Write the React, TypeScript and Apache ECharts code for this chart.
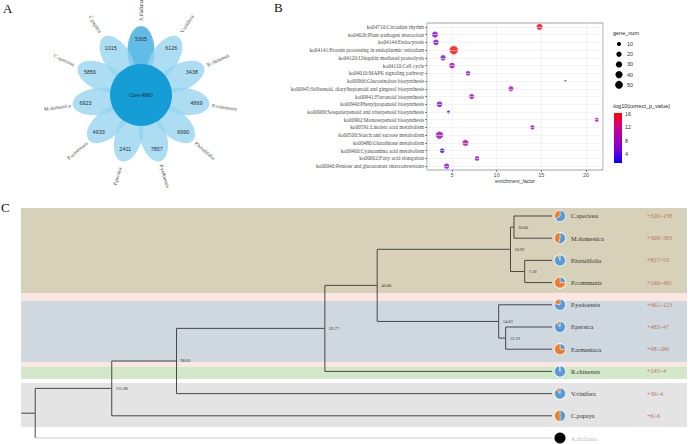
import React, { useEffect, useRef } from "react";
import * as echarts from "echarts";

// ---------- Panel A: flower (Venn) ----------
const flowerSpecies = [
  "A.thaliana", "V.vinifera", "R.chinensis", "P.communis", "P.betulifolia", "P.yedoensis",
  "P.persica", "P.armeniaca", "M.domestica", "C.speciosa", "C.papaya",
];
const flowerCounts = [5305, 6126, 3438, 4869, 6990, 7857, 2411, 4933, 6923, 5856, 1015];
const coreCount = 4960;

// ---------- Panel B: KEGG enrichment ----------
const pathways = [
  "ko04710:Circadian rhythm",
  "ko04626:Plant-pathogen interaction",
  "ko04144:Endocytosis",
  "ko04141:Protein processing in endoplasmic reticulum",
  "ko04120:Ubiquitin mediated proteolysis",
  "ko04110:Cell cycle",
  "ko04010:MAPK signaling pathway",
  "ko00966:Glucosinolate biosynthesis",
  "ko00945:Stilbenoid, diarylheptanoid and gingerol biosynthesis",
  "ko00941:Flavonoid biosynthesis",
  "ko00940:Phenylpropanoid biosynthesis",
  "ko00909:Sesquiterpenoid and triterpenoid biosynthesis",
  "ko00902:Monoterpenoid biosynthesis",
  "ko00591:Linoleic acid metabolism",
  "ko00500:Starch and sucrose metabolism",
  "ko00480:Glutathione metabolism",
  "ko00460:Cyanoamino acid metabolism",
  "ko00062:Fatty acid elongation",
  "ko00040:Pentose and glucuronate interconversions",
];
const enrichment = [14.8, 3.1, 3.2, 5.2, 4.0, 5.0, 6.8, 17.7, 11.6, 7.2, 3.6, 4.6, 21.2, 14.0, 3.6, 6.5, 3.9, 7.8, 4.4];
const geneNum = [27, 27, 23, 58, 20, 23, 14, 1, 17, 17, 23, 4, 9, 11, 43, 27, 14, 14, 20];
const logP = [15.8, 5.8, 5.1, 16.3, 6.1, 8.8, 6.9, 1.6, 9.1, 8.0, 6.5, 2.1, 9.1, 8.3, 8.0, 10.3, 3.6, 6.9, 6.5];
const sizeLegend = [10, 20, 30, 40, 50];
const colorTicks = [4, 8, 12, 16];
const colorMin = 1.3;
const colorMax = 16.3;
const gradColors = ["#0000ff", "#7700d8", "#a800b2", "#d6007f", "#ff0000"];

// ---------- Panel C: phylogeny ----------
const tipNames = [
  "C.speciosa", "M.domestica", "P.betulifolia", "P.communis", "P.yedoensis", "P.persica",
  "P.armeniaca", "R.chinensis", "V.vinifera", "C.papaya", "A.thaliana",
];
const tipGains = [320, 368, 817, 160, 461, 483, 98, 245, 36, 6, 0];
const tipLosses = [158, 303, 53, 481, 123, 47, 286, 4, 4, 6, 0];
const nodeAges = [10.0, 7.18, 10.92, 12.19, 14.03, 46.0, 59.77, 98.81, 115.86, 136.0];
const nodeLabels = ["10.00", "7.18", "10.92", "12.19", "14.03", "46.00", "59.77", "98.81", "115.86", ""];
const nodeChildren = [
  ["t0", "t1"], ["t2", "t3"], ["n0", "n1"], ["t5", "t6"], ["t4", "n3"],
  ["n2", "n4"], ["n5", "t7"], ["n6", "t8"], ["n7", "t9"], ["n8", "t10"],
];
const stemAge = 139.7;
const cladeFrom = [-0.36, 3.47, 3.83, 6.58, 6.78, 7.52];
const cladeTo = [3.47, 3.83, 6.58, 6.78, 7.34, 9.5];
const cladeColors = ["#d6d1b8", "#fbe6e2", "#cfd8df", "#fbe6e2", "#d3e8cb", "#e4e4e4"];

const SERIF = "Liberation Serif";
const SANS = "Liberation Sans";

const bubbleSize = (n: number) => 1.1 + 0.95 * Math.sqrt(n);

export default function App() {
  const ref = useRef<HTMLDivElement>(null);

  useEffect(() => {
    const chart = echarts.init(ref.current as HTMLDivElement, null, { renderer: "svg" });

    // tree geometry from topology
    const nodeRows: number[] = [];
    const rowOf = (r: string) => (r[0] === "t" ? Number(r.slice(1)) : nodeRows[Number(r.slice(1))]);
    const ageOf = (r: string) => (r[0] === "t" ? 0 : nodeAges[Number(r.slice(1))]);
    nodeChildren.forEach((ch, k) => {
      nodeRows[k] = (rowOf(ch[0]) + rowOf(ch[1])) / 2;
    });
    const edges: any[] = [];
    nodeChildren.forEach((ch, k) => {
      ch.forEach((c) => {
        const ti = Number(c.slice(1));
        const muted = c[0] === "t" && tipGains[ti] + tipLosses[ti] === 0;
        edges.push({ coords: [[nodeAges[k], nodeRows[k]], [nodeAges[k], rowOf(c)]] });
        const e: any = { coords: [[nodeAges[k], rowOf(c)], [ageOf(c), rowOf(c)]] };
        if (muted) e.lineStyle = { color: "#cfcfcf" };
        edges.push(e);
      });
    });
    const rootK = nodeAges.length - 1;
    edges.push({ coords: [[stemAge, nodeRows[rootK]], [nodeAges[rootK], nodeRows[rootK]]] });

    // legends (graphic)
    const graphics: any[] = [
      { type: "text", x: 3, y: 2, style: { text: "A", fontSize: 13, fontFamily: SERIF, fill: "#111" } },
      { type: "text", x: 274, y: 1, style: { text: "B", fontSize: 13, fontFamily: SERIF, fill: "#111" } },
      { type: "text", x: 1, y: 201, style: { text: "C", fontSize: 13, fontFamily: SERIF, fill: "#111" } },
      { type: "text", x: 613, y: 33, style: { text: "gene_num", fontSize: 5.5, fontFamily: SANS, fill: "#222", verticalAlign: "middle" } },
      { type: "text", x: 612, y: 106, style: { text: "-log10(correct_p_value)", fontSize: 5.5, fontFamily: SANS, fill: "#222", verticalAlign: "middle" } },
    ];
    sizeLegend.forEach((n, i) => {
      const cy = 44 + i * 10.2;
      graphics.push({ type: "circle", shape: { cx: 619, cy, r: bubbleSize(n) / 2 }, style: { fill: "#000" } });
      graphics.push({ type: "text", x: 627, y: cy, style: { text: String(n), fontSize: 5.5, fontFamily: SANS, fill: "#333", verticalAlign: "middle" } });
    });
    const barTop = 113, barH = 50;
    graphics.push({
      type: "rect",
      shape: { x: 614, y: barTop, width: 8, height: barH },
      style: {
        fill: new echarts.graphic.LinearGradient(0, 0, 0, 1,
          gradColors.slice().reverse().map((c, i) => ({ offset: i / (gradColors.length - 1), color: c }))),
      },
    });
    colorTicks.forEach((v) => {
      const y = barTop + ((colorMax - v) / (colorMax - colorMin)) * barH;
      graphics.push({ type: "text", x: 625, y, style: { text: String(v), fontSize: 5.5, fontFamily: SANS, fill: "#333", verticalAlign: "middle" } });
    });

    const option: any = {
      animation: false,
      backgroundColor: "#ffffff",
      textStyle: { fontFamily: SERIF },
      grid: [
        { left: 427, top: 23, width: 176, height: 147, show: true, borderColor: "#8c8c8c", borderWidth: 0.8, backgroundColor: "#fff" },
        { left: 21, top: 200, width: 666, height: 244, show: false },
      ],
      xAxis: [
        {
          gridIndex: 0, type: "value", min: 2.2, max: 21.9, splitNumber: 4,
          name: "enrichment_factor", nameLocation: "middle", nameGap: 8.5,
          nameTextStyle: { fontSize: 5, color: "#333", fontFamily: SANS },
          axisLine: { show: false },
          axisTick: { show: true, length: 2, lineStyle: { color: "#333", width: 0.6 } },
          axisLabel: { fontSize: 5.5, color: "#4d4d4d", fontFamily: SANS, margin: 2, showMinLabel: false, showMaxLabel: false },
          splitLine: { show: true, lineStyle: { color: "#ebebeb", width: 0.6 } },
        },
        { gridIndex: 1, type: "value", min: -35.53, max: 139.74, inverse: true, show: false },
      ],
      yAxis: [
        {
          gridIndex: 0, type: "category", data: pathways, inverse: true,
          axisLine: { show: false },
          axisTick: { show: true, length: 2, alignWithLabel: true, lineStyle: { color: "#333", width: 0.6 } },
          axisLabel: { fontSize: 5.3, color: "#4d4d4d", margin: 3, fontFamily: SERIF },
          splitLine: { show: false },
        },
        { gridIndex: 1, type: "value", min: -0.72, max: 10.27, inverse: true, show: false },
      ],
      polar: { center: [141, 95], radius: 100 },
      angleAxis: { type: "category", data: flowerSpecies, startAngle: 90 + 180 / 11, boundaryGap: true, show: false },
      radiusAxis: { type: "value", min: 0, max: 100, show: false },
      visualMap: {
        show: false, type: "continuous", seriesIndex: 0, dimension: 3,
        min: colorMin, max: colorMax, inRange: { color: gradColors },
      },
      series: [
        {
          type: "scatter", xAxisIndex: 0, yAxisIndex: 0, z: 3,
          data: pathways.map((p, i) => [enrichment[i], p, geneNum[i], logP[i]]),
          symbolSize: (v: any) => bubbleSize(v[2]),
        },
        {
          type: "scatter", xAxisIndex: 0, yAxisIndex: 0, z: 1, data: [], silent: true,
          markLine: {
            silent: true, symbol: ["none", "none"], label: { show: false },
            lineStyle: { color: "#ebebeb", width: 0.6, type: "solid" },
            data: pathways.map((p) => ({ yAxis: p })),
          },
        },
        {
          type: "custom", coordinateSystem: "polar", z: 2, silent: true,
          data: flowerCounts.map((c, i) => [0, i, c]),
          renderItem: (params: any, api: any) => {
            const i = params.dataIndex;
            const o = api.coord([0, i]);
            const p = api.coord([44, i]);
            const th = Math.atan2(o[1] - p[1], p[0] - o[0]);
            return {
              type: "ellipse", x: p[0], y: p[1], rotation: th,
              shape: { cx: 0, cy: 0, rx: 25, ry: 13.5 },
              style: { fill: i === 0 ? "rgba(70,176,228,0.85)" : "rgba(150,212,240,0.78)" },
            };
          },
        },
        {
          type: "custom", coordinateSystem: "polar", z: 3, silent: true,
          data: [[0, 0, coreCount]],
          renderItem: (params: any, api: any) => {
            const c = api.coord([0, 0]);
            const e = api.coord([31, 0]);
            const r = Math.hypot(e[0] - c[0], e[1] - c[1]);
            return {
              type: "group",
              children: [
                { type: "circle", shape: { cx: c[0], cy: c[1], r }, style: { fill: "#159dd5" } },
                { type: "text", x: c[0], y: c[1], style: { text: "Core " + coreCount, fontSize: 5, fontFamily: SANS, fill: "#1c2b40", align: "center", verticalAlign: "middle" } },
              ],
            };
          },
        },
        {
          type: "custom", coordinateSystem: "polar", z: 4, silent: true,
          data: flowerCounts.map((c, i) => [0, i, c]),
          renderItem: (params: any, api: any) => {
            const i = params.dataIndex;
            const o = api.coord([0, i]);
            const n = api.coord([56, i]);
            const l = api.coord([84.5, i]);
            let th = Math.atan2(o[1] - l[1], l[0] - o[0]);
            if (Math.cos(th) < -0.01) th = th + Math.PI;
            return {
              type: "group",
              children: [
                { type: "text", x: n[0], y: n[1], style: { text: String(flowerCounts[i]), fontSize: 5.5, fontFamily: SANS, fill: "#333", align: "center", verticalAlign: "middle" } },
                { type: "text", x: l[0], y: l[1], rotation: th, style: { text: flowerSpecies[i], fontSize: 5.2, fontFamily: SERIF, fill: "#444", align: "center", verticalAlign: "middle" } },
              ],
            };
          },
        },
        {
          type: "line", xAxisIndex: 1, yAxisIndex: 1, data: [], z: 0, silent: true,
          markArea: {
            silent: true,
            data: cladeFrom.map((f, i) => [{ yAxis: f, itemStyle: { color: cladeColors[i] } }, { yAxis: cladeTo[i] }]),
          },
        },
        {
          type: "lines", coordinateSystem: "cartesian2d", xAxisIndex: 1, yAxisIndex: 1,
          polyline: true, z: 2, silent: true,
          lineStyle: { color: "#474747", width: 1, opacity: 1 },
          data: edges,
        },
        {
          type: "custom", xAxisIndex: 1, yAxisIndex: 1, z: 4, silent: true,
          data: tipNames.map((n, i) => [0, i]),
          renderItem: (params: any, api: any) => {
            const i = params.dataIndex;
            const p = api.coord([api.value(0), api.value(1)]);
            const cx = p[0] + 8, cy = p[1];
            const g = tipGains[i], l = tipLosses[i];
            const R = 5.5;
            const kids: any[] = [];
            const muted = g + l === 0;
            if (muted) {
              kids.push({ type: "circle", shape: { cx, cy, r: R }, style: { fill: "#000" } });
            } else {
              kids.push({ type: "circle", shape: { cx, cy, r: R + 0.6 }, style: { fill: "#fff" } });
              const a0 = -Math.PI / 2;
              const a1 = a0 + (2 * Math.PI * g) / (g + l);
              kids.push({ type: "sector", shape: { cx, cy, r0: 0, r: R, startAngle: a0, endAngle: a1, clockwise: true }, style: { fill: "#5b9bd5", stroke: "#fff", lineWidth: 0.4 } });
              kids.push({ type: "sector", shape: { cx, cy, r0: 0, r: R, startAngle: a1, endAngle: a0 + 2 * Math.PI, clockwise: true }, style: { fill: "#ed7d31", stroke: "#fff", lineWidth: 0.4 } });
              kids.push({ type: "text", x: p[0] + 95, y: cy, style: { text: "+" + g + "/-" + l, fontSize: 6, fontFamily: SERIF, fill: "#c0705e", verticalAlign: "middle" } });
            }
            kids.push({ type: "text", x: p[0] + 19, y: cy, style: { text: tipNames[i], fontSize: 6.3, fontFamily: SERIF, fill: muted ? "#bbbbbb" : "#333", verticalAlign: "middle" } });
            return { type: "group", children: kids };
          },
        },
        {
          type: "custom", xAxisIndex: 1, yAxisIndex: 1, z: 4, silent: true,
          data: nodeAges.map((a, k) => [a, nodeRows[k]]),
          renderItem: (params: any, api: any) => {
            const k = params.dataIndex;
            const p = api.coord([api.value(0), api.value(1)]);
            return { type: "text", x: p[0] + 4, y: p[1], style: { text: nodeLabels[k], fontSize: 4.5, fontFamily: SERIF, fill: "#333", verticalAlign: "middle" } };
          },
        },
      ],
      graphic: { elements: graphics },
    };

    chart.setOption(option);
    return () => chart.dispose();
  }, []);

  return (
    <div
      ref={ref}
      style={{ position: "absolute", left: 0, top: 0, width: 688, height: 444, background: "#fff" }}
    />
  );
}
